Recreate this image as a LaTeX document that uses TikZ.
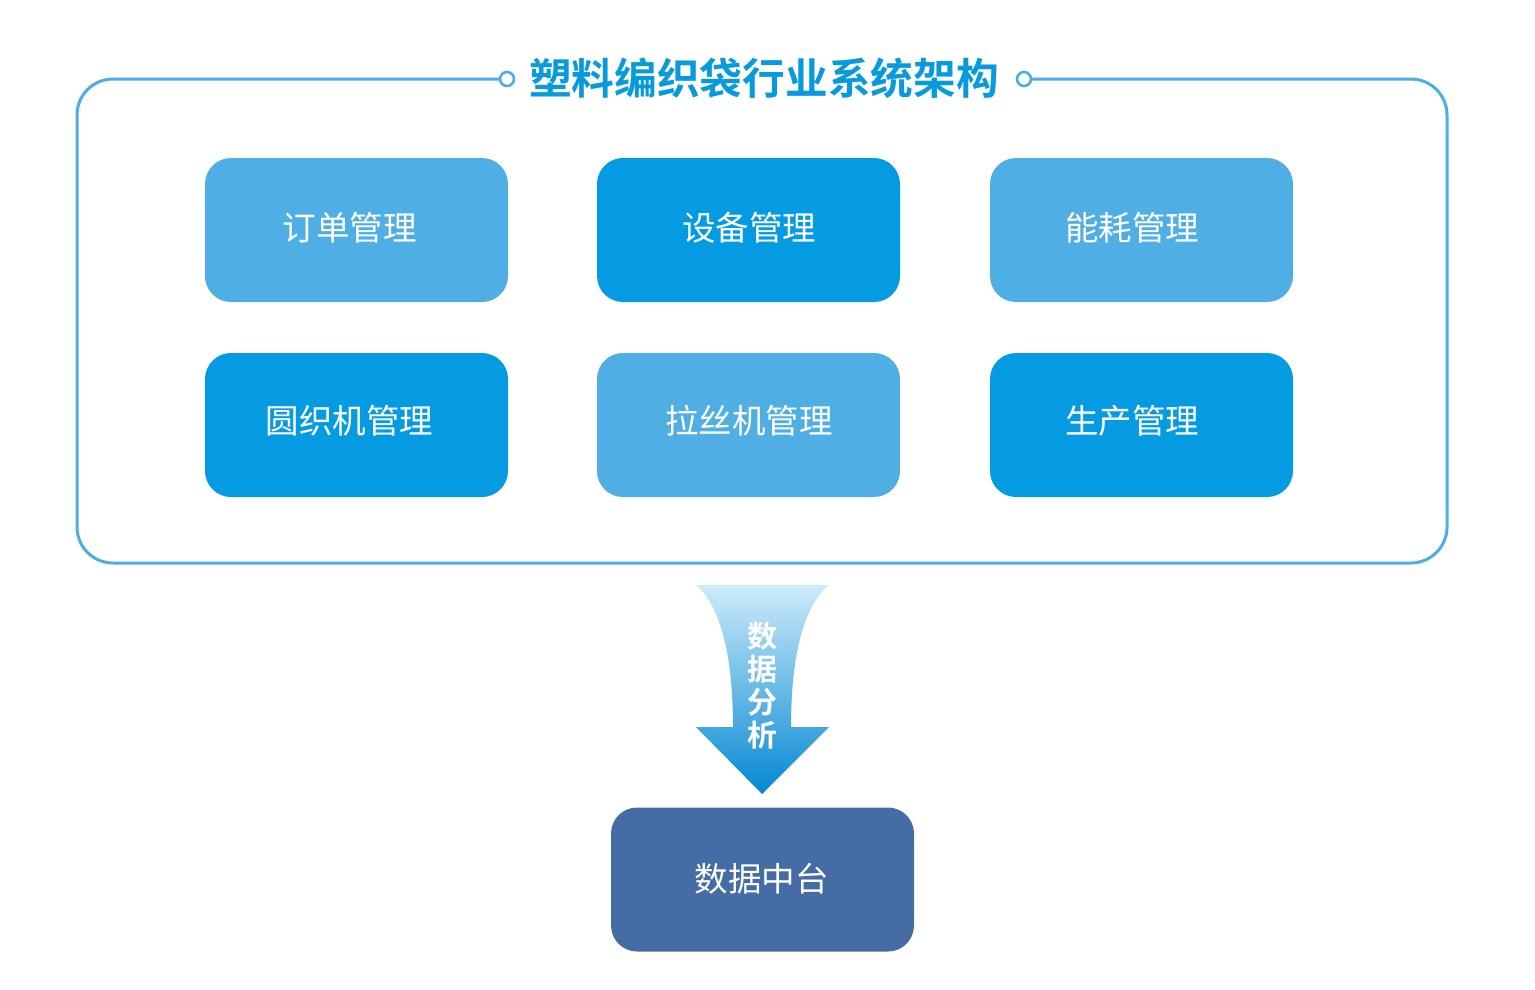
\documentclass[tikz,border=0pt]{standalone}
\usepackage{fontspec}
\newfontfamily\cjk{Noto Sans CJK SC}
\newfontfamily\cjkbold{Noto Sans CJK SC Bold}
\definecolor{frameblue}{HTML}{4DAEE6}
\definecolor{titleblue}{HTML}{079BDD}
\definecolor{lightbox}{HTML}{4FAEE3}
\definecolor{darkbox}{HTML}{049BE2}
\definecolor{navybox}{HTML}{466CA6}
\definecolor{arrowtop}{HTML}{CDEBFA}
\definecolor{arrowbot}{HTML}{0388D2}
\tikzset{
  modbox/.style={rounded corners=26pt, minimum width=303pt, minimum height=144pt, inner sep=0pt},
  lightmod/.style={modbox, fill=lightbox},
  darkmod/.style={modbox, fill=darkbox},
  modtext/.style={text=white, font=\cjk\fontsize{33.5}{40}\selectfont, inner sep=0pt},
  framecircle/.style={circle, draw=frameblue, line width=2.6pt, fill=white, minimum size=14pt, inner sep=0pt},
}
\begin{document}
\begin{tikzpicture}[x=1pt,y=-1pt]
\useasboundingbox (0,0) rectangle (1535,989);
% frame
\draw[frameblue, line width=3pt, rounded corners=36pt]
  (500,79) -- (77,79) -- (77,563) -- (1447,563) -- (1447,79) -- (1024,79);
\node[framecircle] (cl) at (507,79) {};
\node[framecircle] (cr) at (1024,79) {};
\node[text=titleblue, font=\cjkbold\fontsize{42.7}{50}\selectfont, inner sep=0pt] (title) at (764,78) {塑料编织袋行业系统架构};
% modules
\node[lightmod] (m1) at (356.5,230) {};
\node[darkmod]  (m2) at (748.5,230) {};
\node[lightmod] (m3) at (1141.5,230) {};
\node[darkmod]  (m4) at (356.5,425) {};
\node[lightmod] (m5) at (748.5,425) {};
\node[darkmod]  (m6) at (1141.5,425) {};
\node[modtext] (t1) at (349.5,228) {订单管理};
\node[modtext] (t2) at (749,228) {设备管理};
\node[modtext] (t3) at (1132,228) {能耗管理};
\node[modtext] (t4) at (349.5,421) {圆织机管理};
\node[modtext] (t5) at (749,421) {拉丝机管理};
\node[modtext] (t6) at (1132,421) {生产管理};
% arrow
\shade[top color=arrowtop, bottom color=arrowbot]
  (696,585) -- (829,585) .. controls (799,610) and (791,670) .. (791,727)
  -- (829,727) -- (762,794) -- (696,727) -- (733,727)
  .. controls (733,670) and (725,610) .. (696,585) -- cycle;
\node[text=white, font=\cjkbold\fontsize{30}{34}\selectfont, align=center, inner sep=0pt] (lbl) at (762,686)
  {数\\[-1pt]据\\[-1pt]分\\[-1pt]析};
% data platform
\node[modbox, fill=navybox] (dp) at (762.5,879.5) {};
\node[modtext] (dpt) at (761.5,879) {数据中台};
\end{tikzpicture}
\end{document}
